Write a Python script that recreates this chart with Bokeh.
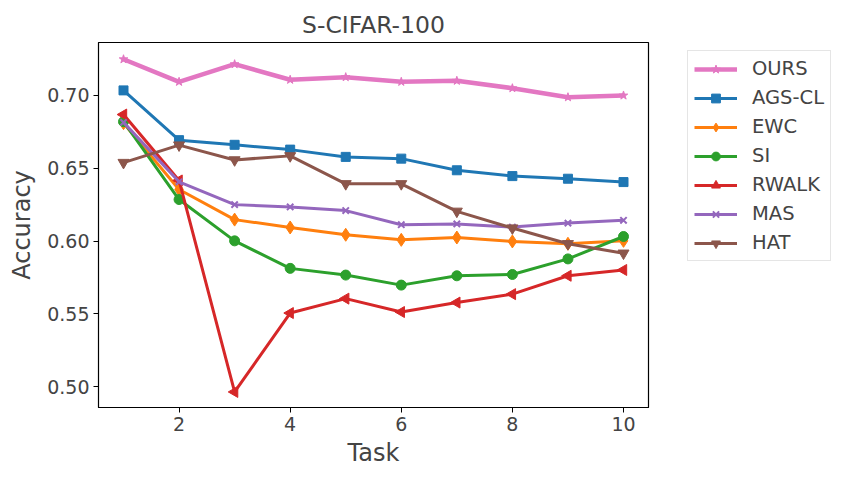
import math
from bokeh.plotting import figure
from bokeh.models import Legend, LegendItem, FixedTicker, PrintfTickFormatter, Range1d
from bokeh.embed import file_html
from bokeh.resources import INLINE

tasks = [1, 2, 3, 4, 5, 6, 7, 8, 9, 10]
ours = [0.7249, 0.7094, 0.7215, 0.7108, 0.7126, 0.7094, 0.7101, 0.7050, 0.6988, 0.7000]
ags_cl = [0.7035, 0.6693, 0.6661, 0.6628, 0.6578, 0.6566, 0.6486, 0.6446, 0.6428, 0.6405]
ewc = [0.6810, 0.6354, 0.6147, 0.6093, 0.6043, 0.6008, 0.6024, 0.5997, 0.5981, 0.6001]
si = [0.6820, 0.6285, 0.6001, 0.5812, 0.5766, 0.5697, 0.5761, 0.5770, 0.5877, 0.6031]
rwalk = [0.6869, 0.6416, 0.4963, 0.5505, 0.5604, 0.5512, 0.5577, 0.5635, 0.5761, 0.5801]
mas = [0.6815, 0.6407, 0.6250, 0.6234, 0.6209, 0.6112, 0.6117, 0.6096, 0.6123, 0.6142]
hat = [0.6539, 0.6659, 0.6557, 0.6585, 0.6393, 0.6393, 0.6204, 0.6089, 0.5981, 0.5916]

names = ["OURS", "AGS-CL", "EWC", "SI", "RWALK", "MAS", "HAT"]
series = [ours, ags_cl, ewc, si, rwalk, mas, hat]
colors = ["#e377c2", "#1f77b4", "#ff7f0e", "#2ca02c", "#d62728", "#9467bd", "#8c564b"]
markers = ["star", "square", "diamond", "circle", "triangle", "x", "inverted_triangle"]
msizes = [9, 9, 13, 10, 11, 9, 11]
angles = [0, 0, 0, 0, math.pi / 2, 0, 0]
lwidths = [4.5, 3, 3, 3, 3, 3, 3]
x_ticks = [2, 4, 6, 8, 10]
y_ticks = [0.50, 0.55, 0.60, 0.65, 0.70]

FONT = "DejaVu Sans"

p = figure(width=831, height=464, output_backend="svg", toolbar_location=None,
           frame_width=550, frame_height=365,
           min_border_left=98, min_border_right=10, min_border_top=42, min_border_bottom=57,
           x_range=Range1d(0.55, 10.45), y_range=Range1d(0.4856, 0.7364),
           title="S-CIFAR-100")
p.title.text_font = FONT
p.title.text_font_size = "23.5px"
p.title.text_font_style = "normal"
p.title.align = "center"
p.title.offset = 0
p.title.standoff = 8

p.xgrid.visible = False
p.ygrid.visible = False
p.outline_line_color = "black"
p.outline_line_width = 1.2

for ax in (p.xaxis[0], p.yaxis[0]):
    ax.axis_line_color = "black"
    ax.major_tick_line_color = "black"
    ax.major_tick_out = 5
    ax.major_tick_in = 0
    ax.minor_tick_line_color = None
    ax.major_label_text_font = FONT
    ax.major_label_text_font_size = "19px"
    ax.axis_label_text_font = FONT
    ax.axis_label_text_font_size = "24px"
    ax.axis_label_text_font_style = "normal"
    ax.major_label_standoff = 4

p.xaxis.ticker = FixedTicker(ticks=x_ticks)
p.yaxis.ticker = FixedTicker(ticks=y_ticks)
p.yaxis.formatter = PrintfTickFormatter(format="%.2f")
p.xaxis.axis_label = "Task"
p.yaxis.axis_label = "Accuracy"
p.xaxis.axis_label_standoff = 5
p.yaxis.axis_label_standoff = 8

items = []
for name, ys, c, m, s, a, lw in zip(names, series, colors, markers, msizes, angles, lwidths):
    r1 = p.line(tasks, ys, line_color=c, line_width=lw)
    r2 = p.scatter(tasks, ys, marker=m, size=s, angle=a, fill_color=c, line_color=c,
                   line_width=2 if m == "x" else 1)
    items.append(LegendItem(label=name, renderers=[r1, r2]))

legend = Legend(items=items, location=(39, 146))
legend.label_text_font = FONT
legend.label_text_font_size = "19.5px"
legend.glyph_width = 43
legend.glyph_height = 22
legend.spacing = 6
legend.padding = 6
legend.margin = 0
legend.label_standoff = 15
legend.border_line_color = "#cccccc"
legend.border_line_width = 1
legend.background_fill_alpha = 1
p.add_layout(legend, "right")

open("out.html", "w").write(file_html(p, INLINE))
